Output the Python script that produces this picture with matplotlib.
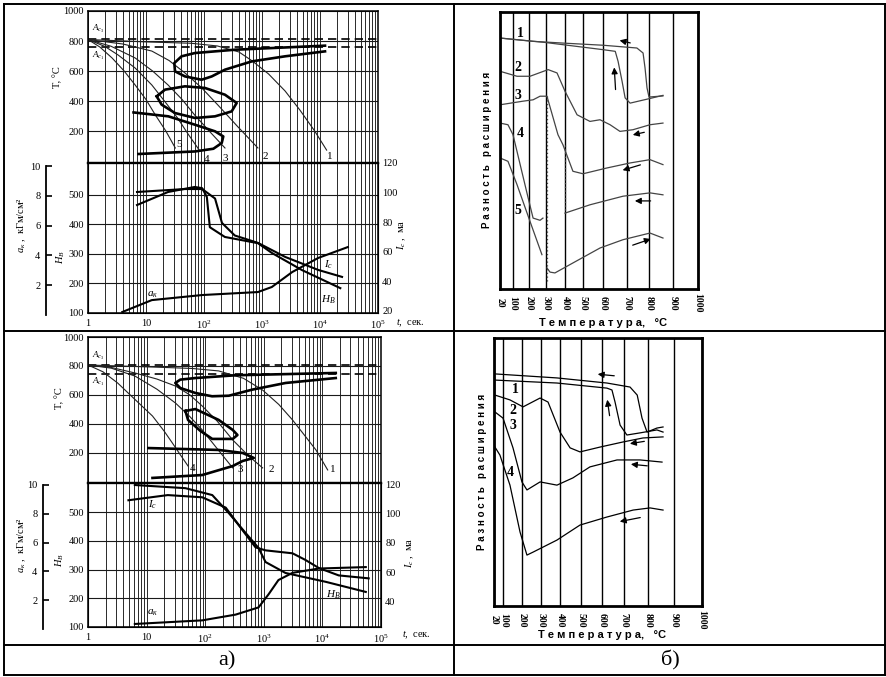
import numpy as np
import matplotlib
matplotlib.use("Agg")
import matplotlib.pyplot as plt
from matplotlib.lines import Line2D
from matplotlib.ticker import FixedLocator, LogLocator, NullFormatter

plt.rcParams['font.family'] = ['Liberation Serif', 'DejaVu Serif']
plt.rcParams['mathtext.fontset'] = 'custom'
plt.rcParams['mathtext.rm'] = 'Liberation Serif'
plt.rcParams['mathtext.it'] = 'Liberation Serif:italic'

# ---------------- panel a, upper diagram ----------------
a1_ac3 = 815
a1_ac1 = 757
a1_c1_t = [1, 12, 60, 170, 400, 680, 1300, 2500, 4500, 8100, 13000]
a1_c1_T = [810, 793, 785, 767, 727, 667, 580, 467, 340, 200, 73]
a1_c2_t = [1, 4, 12.6, 25, 47, 90, 174, 380, 850]
a1_c2_T = [810, 780, 733, 670, 587, 490, 373, 230, 87]
a1_c3_t = [1, 2.5, 6.5, 13, 24, 42, 69, 130, 230]
a1_c3_T = [810, 765, 687, 600, 507, 410, 307, 190, 87]
a1_c4_t = [1, 1.95, 3.3, 6.5, 12.6, 21, 35, 54, 85]
a1_c4_T = [810, 764, 707, 620, 507, 398, 287, 176, 67]
a1_c5_t = [1, 1.6, 2.6, 4.2, 6.5, 10, 14.5, 22, 32]
a1_c5_T = [810, 760, 687, 600, 507, 410, 307, 200, 87]
a1_loop1_t = [12200, 342, 70, 41, 30.8, 31.6, 47, 91, 136, 230, 664, 2500, 12200]
a1_loop1_T = [769, 742, 720, 698, 653, 598, 564, 542, 564, 609, 664, 698, 731]
a1_loop2_t = [15.3, 21.3, 47, 104, 230, 366, 300, 155, 70, 31.6, 18.6, 15.3]
a1_loop2_T = [431, 476, 498, 487, 442, 387, 331, 298, 287, 320, 376, 431]
a1_loop3_t = [6.1, 24.3, 70, 155, 215, 202, 145, 70, 7.4]
a1_loop3_T = [324, 298, 242, 198, 164, 120, 82, 64, 47]
a1_hb_t = [7, 24, 69, 93, 112, 126, 229, 851, 1479, 4900, 22400]
a1_hb = [465, 509, 526, 522, 492, 390, 357, 336, 303, 245, 184]
a1_ic_t = [7, 47, 93, 155, 204, 339, 851, 2512, 9330, 24000]
a1_ic = [100.4, 102.4, 102.4, 96, 79.5, 71, 66, 56.5, 47.7, 43]
a1_ak_t = [3.9, 12.6, 93, 851, 1479, 3311, 9330, 30200]
a1_ak = [0.2, 1.0, 1.34, 1.54, 1.88, 2.88, 3.83, 4.56]

# ---------------- panel a, lower diagram ----------------
a2_ac3 = 807
a2_ac1 = 745
a2_c1_t = [1, 12.6, 60, 170, 450, 955, 1800, 3090, 5000, 7760, 12300]
a2_c1_T = [807, 793, 783, 766, 715, 634, 535, 428, 320, 221, 83]
a2_c2_t = [1, 2.5, 6.3, 15, 31, 55, 89, 160, 295, 550, 955]
a2_c2_T = [807, 790, 752, 710, 662, 600, 524, 420, 290, 180, 97]
a2_c3_t = [1, 2.5, 6.3, 15, 31, 55, 89, 160, 295]
a2_c3_T = [807, 785, 731, 640, 545, 450, 359, 230, 97]
a2_c4_t = [1, 1.8, 3.2, 6.3, 12.6, 20, 27.5, 38, 51]
a2_c4_T = [807, 760, 683, 570, 455, 350, 269, 185, 110]
a2_loop1_t = [16900, 329, 68, 37.6, 30.9, 37.6, 68, 131, 253, 635, 2360, 16900]
a2_loop1_T = [752, 736, 717, 706, 683, 648, 614, 591, 595, 637, 683, 717]
a2_loop2_t = [46, 68, 170, 295, 355, 295, 132, 83, 51, 46]
a2_loop2_T = [490, 503, 428, 359, 324, 297, 297, 352, 428, 490]
a2_loop3_t = [10.7, 170, 437, 676, 437, 295, 89, 12.6]
a2_loop3_T = [234, 221, 200, 166, 145, 110, 48, 28]
a2_hb_t = [6.3, 46, 132, 251, 490, 813, 1072, 2344, 11500, 55000]
a2_hb = [594, 583, 559, 497, 427, 375, 326, 288, 257, 222]
a2_ic_t = [4.9, 23, 89, 224, 427, 724, 1072, 3090, 5130, 8710, 19000, 61700]
a2_ic = [109, 112.5, 111, 104, 89, 77, 75, 73, 68.5, 63, 58, 56]
a2_ak_t = [6.3, 89, 331, 813, 1202, 1778, 3090, 8710, 55000]
a2_ak = [0.35, 0.6, 1.0, 1.5, 2.4, 3.4, 3.9, 4.2, 4.3]

# ---------------- panel b (dilatometric curves) ----------------
b_ticks = [20, 100, 200, 300, 400, 500, 600, 700, 800, 900, 1000]
b1_pos = [0, 13, 29, 46, 65, 83, 103.5, 127, 149, 173.5, 198]
b1_1a_T = [20, 224, 411, 598, 745, 773, 782, 791, 800, 857]
b1_1a_v = [90.6, 89.4, 88.7, 88.0, 87.0, 85.2, 79.8, 72.6, 69.3, 69.7]
b1_1b_T = [20, 282, 598, 650, 662, 679, 692, 714, 800, 857]
b1_1b_v = [90.6, 89.1, 86.4, 85.8, 82.2, 75.0, 69.0, 67.1, 68.7, 69.9]
b1_2_T = [20, 125, 206, 311, 358, 400, 467, 534, 583, 628, 670, 727, 804, 857]
b1_2_v = [78.6, 76.8, 76.8, 79.2, 78.0, 71.4, 62.9, 60.5, 61.1, 59.3, 56.9, 57.5, 59.3, 59.9]
b1_3_T = [20, 162, 224, 265, 305, 363, 389, 444, 500, 615, 714, 804, 857]
b1_3_v = [66.5, 67.8, 68.3, 69.6, 69.6, 55.7, 52.1, 42.5, 41.6, 43.7, 45.5, 46.7, 44.9]
b1_4a_T = [20, 69, 100, 190, 224, 265, 282]
b1_4a_v = [59.9, 59.3, 55.7, 34.0, 25.6, 24.8, 25.6]
b1_4b_T = [400, 534, 683, 804, 857]
b1_4b_v = [27.4, 30.4, 33.5, 34.7, 34.0]
b1_5a_T = [20, 69, 125, 206, 276]
b1_5a_v = [47.3, 46.1, 37.7, 24.4, 12.4]
b1_5b_T = [305, 321, 347, 444, 583, 683, 804, 857]
b1_5b_v = [7.6, 6.1, 5.8, 9.4, 14.8, 17.8, 20.2, 18.4]
b1_dot_T = [305, 400]
b1_dot_top = [69.6, 52.0]
b1_dot_bot = [2.0, 27.4]
b1_arrows = [((657, 90.0), (727, 88.6)), ((645, 81.0), (652, 71.0)),
             ((714, 55.4), (791, 56.8)), ((670, 42.6), (773, 45.1)),
             ((723, 31.8), (818, 31.8)), ((818, 18.4), (714, 15.5))]
b1_labels = [(144, 92.4), (131, 79.8), (131, 70.0), (144, 56.3), (131, 28.5)]

b2_pos = [0, 9.5, 28.5, 47, 66, 87.5, 108.5, 130.5, 154.5, 180, 208]
b2_1a_T = [28, 384, 620, 723, 753, 773, 794, 833, 857]
b2_1a_v = [86.6, 85.1, 83.2, 81.7, 78.7, 70.1, 64.9, 66.4, 66.8]
b2_1b_T = [28, 384, 620, 643, 657, 680, 710, 765, 833, 857]
b2_1b_v = [84.3, 83.2, 81.3, 80.6, 76.1, 67.5, 63.8, 64.6, 65.7, 64.9]
b2_2_T = [28, 134, 203, 295, 337, 400, 447, 493, 588, 693, 777, 857]
b2_2_v = [78.7, 76.9, 74.3, 77.6, 76.1, 64.9, 59.0, 57.5, 59.3, 61.2, 62.7, 63.1]
b2_3_T = [28, 96, 150, 197, 224, 295, 384, 460, 540, 666, 765, 853]
b2_3_v = [72.4, 70.1, 59.0, 46.3, 43.3, 46.3, 45.1, 47.8, 51.9, 54.5, 54.5, 53.7]
b2_4_T = [28, 70, 134, 187, 224, 257, 384, 493, 620, 736, 806, 857]
b2_4_v = [59.3, 56.3, 45.1, 27.6, 19.0, 20.1, 24.6, 30.2, 33.2, 35.8, 36.6, 35.8]
b2_arrows = [((564, 86.6), (666, 85.8)), ((620, 78.0), (634, 70.0)),
             ((711, 60.4), (794, 61.6)), ((715, 53.0), (806, 52.2)),
             ((666, 31.3), (777, 33.2))]
b2_labels = [(160, 80.6), (150, 73.0), (150, 67.5), (134, 50.0)]

W, H = 887, 677
fig = plt.figure(figsize=(W / 100, H / 100), dpi=100)


def rect(x0, y0, x1, y1):
    return [x0 / W, 1 - y1 / H, (x1 - x0) / W, (y1 - y0) / H]


def fline(xs, ys, lw=1.4):
    fig.add_artist(Line2D([x / W for x in xs], [1 - y / H for y in ys], color='k', lw=lw))


def ftext(x, y, s, **kw):
    fig.text(x / W, 1 - y / H, s, **kw)


# table lines
fline([4, 885], [4, 4]); fline([4, 885], [331, 331]); fline([4, 885], [645, 645])
fline([4, 885], [675, 675]); fline([4, 4], [4, 675]); fline([454, 454], [4, 675])
fline([885, 885], [4, 675])
ftext(227, 661, 'а)', fontsize=16, ha='center', va='center')
ftext(670, 660, 'б)', fontsize=16, ha='center', va='center')

dec_labels = ['1', '10', '$10^2$', '$10^3$', '$10^4$', '$10^5$']


def log_axes(r):
    ax = fig.add_axes(r)
    ax.set_xscale('log')
    ax.set_xlim(1, 1e5)
    ax.xaxis.set_major_locator(FixedLocator(10.0 ** np.arange(0, 6)))
    ax.xaxis.set_minor_locator(LogLocator(base=10, subs=np.arange(2, 10)))
    ax.xaxis.set_minor_formatter(NullFormatter())
    ax.grid(True, which='both', axis='x', color='#1a1a1a', lw=0.65)
    ax.tick_params(which='both', length=0, labelsize=7.5, pad=3)
    for s in ax.spines.values():
        s.set_linewidth(1.1)
    return ax


def panel_a(px, Tlim, HBlim, Iclim, akpx, ac3, ac1, cool, loops, hb, ic, ak,
            num_pos, ic_ticks, txt):
    x0, x1, y0, ym, y1 = px
    ax = log_axes(rect(x0, y0, x1, ym))
    ax.set_ylim(*Tlim)
    ax.set_yticks([200, 400, 600, 800, 1000])
    ax.grid(True, axis='y', color='#1a1a1a', lw=0.8)
    ax.set_xticklabels([])
    ax.axhline(ac3, color='k', lw=1.2, ls=(0, (5, 3)))
    ax.axhline(ac1, color='k', lw=1.2, ls=(0, (5, 3)))
    for t, T in cool:
        ax.plot(t, T, color='#222', lw=0.8)
    for t, T in loops:
        ax.plot(t, T, color='k', lw=1.9)
    for i, (t, T) in enumerate(num_pos):
        ax.text(t, T, str(i + 1), fontsize=8, ha='center', va='center')
    ax.text(1.15, ac3 + 65, '$A_{c_3}$', fontsize=6.5, va='center')
    ax.text(1.15, ac1 - 55, '$A_{c_1}$', fontsize=6.5, va='center')
    ax.spines['bottom'].set_linewidth(1.6)

    lo = log_axes(rect(x0, ym, x1, y1))
    lo.set_ylim(*HBlim)
    lo.set_yticks([100, 200, 300, 400, 500])
    lo.grid(True, axis='y', color='#1a1a1a', lw=0.8)
    lo.set_xticklabels(dec_labels)
    lo.tick_params(axis='x', pad=4)
    lo.spines['top'].set_linewidth(1.6)
    lo.plot(hb[0], hb[1], color='k', lw=1.5)
    tw = lo.twinx()
    tw.set_ylim(*Iclim)
    tw.set_yticks(ic_ticks)
    tw.tick_params(length=0, labelsize=7.5, pad=3)
    tw.plot(ic[0], ic[1], color='k', lw=1.5)

    # separate a_k scale on the far left
    kx, ky0, ky1 = akpx
    ka = fig.add_axes(rect(kx, ky0, kx + 1, ky1))
    for s in ['top', 'right', 'bottom']:
        ka.spines[s].set_visible(False)
    ka.spines['left'].set_linewidth(1.3)
    ka.set_ylim(0, 10)
    ka.set_xticks([])
    ka.set_yticks([2, 4, 6, 8, 10])
    ka.tick_params(axis='y', direction='in', length=4, width=1.2, labelsize=7.5, pad=4)
    ka.patch.set_visible(False)

    # a_k curve drawn on that scale, across the plot width
    kk = fig.add_axes(rect(x0, ky0, x1, ky1))
    kk.set_xscale('log')
    kk.set_xlim(1, 1e5)
    kk.set_ylim(0, 10)
    kk.axis('off')
    kk.plot(ak[0], ak[1], color='k', lw=1.5)

    for (t, v, s) in txt['lo']:
        lo.text(t, v, s, fontsize=8, ha='center', va='center')
    for (x, y, s, rot) in txt['fig']:
        ftext(x, y, s, fontsize=7.5, ha='center', va='center', rotation=rot)


# a, upper
panel_a((88, 378, 11, 163, 313), (-13, 1000), (100, 607), (18.6, 120),
        (46, 166, 315), a1_ac3, a1_ac1,
        [(a1_c1_t, a1_c1_T), (a1_c2_t, a1_c2_T), (a1_c3_t, a1_c3_T),
         (a1_c4_t, a1_c4_T), (a1_c5_t, a1_c5_T)],
        [(a1_loop1_t, a1_loop1_T), (a1_loop2_t, a1_loop2_T), (a1_loop3_t, a1_loop3_T)],
        (a1_hb_t, a1_hb), (a1_ic_t, a1_ic), (a1_ak_t, a1_ak),
        [(14800, 27), (1120, 33), (230, 20), (112, 13), (37, 107)],
        [20, 40, 60, 80, 100, 120],
        {'lo': [(13800, 262, '$I_c$'), (13800, 144, '$H_B$'), (13, 161, '$a_к$')],
         'fig': [(58, 77, 'T, °C', 90), (61, 257, '$H_B$', 90),
                 (22, 225, '$a_к$ ,  кГм/см²', 90), (402, 235, '$I_c$ ,  ма', 90),
                 (410, 323, '$t$,  сек.', 0)]})

# a, lower
panel_a((88, 381, 337, 483, 627), (-7, 1000), (100, 601), (23, 120.7),
        (43, 485, 629), a2_ac3, a2_ac1,
        [(a2_c1_t, a2_c1_T), (a2_c2_t, a2_c2_T), (a2_c3_t, a2_c3_T),
         (a2_c4_t, a2_c4_T)],
        [(a2_loop1_t, a2_loop1_T), (a2_loop2_t, a2_loop2_T), (a2_loop3_t, a2_loop3_T)],
        (a2_hb_t, a2_hb), (a2_ic_t, a2_ic), (a2_ak_t, a2_ak),
        [(15100, 83), (1320, 83), (400, 83), (60, 90)],
        [40, 60, 80, 100, 120],
        {'lo': [(12.6, 524, '$I_c$'), (15100, 211, '$H_B$'), (12.9, 149, '$a_к$')],
         'fig': [(60, 398, 'T, °C', 90), (60, 560, '$H_B$', 90),
                 (22, 545, '$a_к$ ,  кГм/см²', 90), (410, 553, '$I_c$ ,  ма', 90),
                 (416, 635, '$t$,  сек.', 0)]})


def panel_b(px, pos, curves, dots, arrows, labels, lab_y, xlab_xy, ylab_xy, col):
    x0, x1, y0, y1 = px
    ax = fig.add_axes(rect(x0, y0, x1, y1))
    fwd = lambda x: np.interp(x, b_ticks, pos)
    inv = lambda p: np.interp(p, pos, b_ticks)
    ax.set_xscale('function', functions=(fwd, inv))
    ax.set_xlim(20, 1000)
    ax.set_ylim(0, 100)
    ax.set_xticks(b_ticks)
    ax.set_xticklabels([])
    ax.set_yticks([])
    ax.grid(True, axis='x', color='k', lw=1.0)
    ax.tick_params(length=0)
    for s in ax.spines.values():
        s.set_linewidth(2.0)
    for T, v in curves:
        ax.plot(T, v, color=col, lw=0.9)
    for T, top, bot in dots:
        ax.plot([T, T], [top, bot], color=col, lw=0.9, ls=(0, (1, 2)))
    for head, tail in arrows:
        ax.annotate('', xy=head, xytext=tail,
                    arrowprops=dict(arrowstyle='-|>', color='k', lw=0.9, mutation_scale=9))
    for i, (T, v) in enumerate(labels):
        ax.text(T, v, str(i + 1), fontsize=10, fontweight='bold', ha='center', va='center')
    for T, p in zip(b_ticks, pos):
        ftext(x0 + p, lab_y, str(T), fontsize=7, rotation=270, ha='center', va='center',
              fontweight='bold')
    ftext(xlab_xy[0], xlab_xy[1], 'Т е м п е р а т у р а,   °С', fontsize=8,
          fontweight='bold', family=['Liberation Sans', 'DejaVu Sans'],
          ha='center', va='center')
    ftext(ylab_xy[0], ylab_xy[1], 'Р а з н о с т ь   р а с ш и р е н и я', fontsize=7,
          fontweight='bold', family=['Liberation Sans', 'DejaVu Sans'],
          rotation=90, ha='center', va='center')


panel_b((500, 698, 12, 289), b1_pos,
        [(b1_1a_T, b1_1a_v), (b1_1b_T, b1_1b_v), (b1_2_T, b1_2_v), (b1_3_T, b1_3_v),
         (b1_4a_T, b1_4a_v), (b1_4b_T, b1_4b_v), (b1_5a_T, b1_5a_v), (b1_5b_T, b1_5b_v)],
        list(zip(b1_dot_T, b1_dot_top, b1_dot_bot)), b1_arrows, b1_labels,
        303, (603, 323), (487, 150), '#444')

panel_b((494, 702, 338, 606), b2_pos,
        [(b2_1a_T, b2_1a_v), (b2_1b_T, b2_1b_v), (b2_2_T, b2_2_v), (b2_3_T, b2_3_v),
         (b2_4_T, b2_4_v)],
        [], b2_arrows, b2_labels,
        620, (602, 635), (482, 472), 'k')

fig.savefig('out.png', dpi=100)
